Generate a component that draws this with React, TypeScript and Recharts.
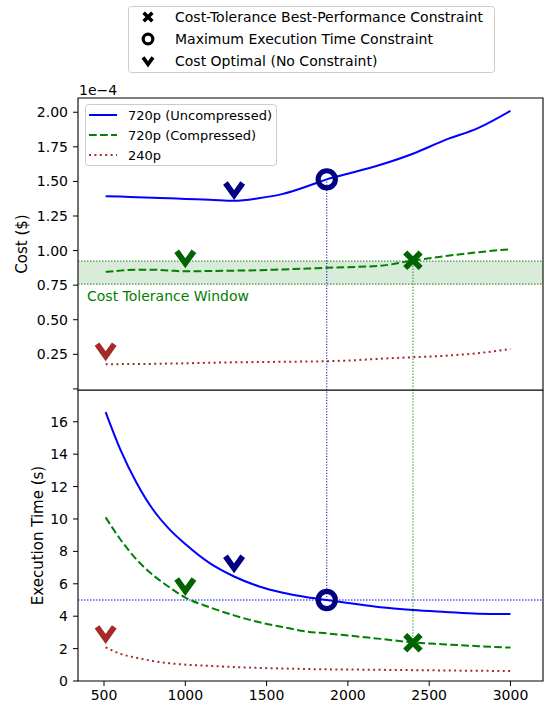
import React from 'react';
import {
  ComposedChart, Line, Scatter, XAxis, YAxis, ReferenceLine, ReferenceArea,
} from 'recharts';

const FONT = '"DejaVu Sans", "Liberation Sans", sans-serif';

// frame sizes sampled along every curve
const frameSizes = [510, 600, 700, 800, 900, 1000, 1150, 1300, 1450, 1600, 1750, 1870, 2000, 2200, 2400, 2600, 2800, 3000];

// cost, in units of 1e-4 $
const costUncompressed = [1.392, 1.39, 1.386, 1.382, 1.378, 1.373, 1.368, 1.36, 1.378, 1.41, 1.465, 1.515, 1.555, 1.62, 1.70, 1.80, 1.885, 2.01];
const costCompressed = [0.846, 0.855, 0.862, 0.862, 0.856, 0.85, 0.852, 0.855, 0.858, 0.864, 0.87, 0.876, 0.88, 0.89, 0.928, 0.96, 0.988, 1.01];
const cost240p = [0.178, 0.179, 0.18, 0.181, 0.183, 0.185, 0.189, 0.192, 0.194, 0.196, 0.198, 0.2, 0.205, 0.218, 0.229, 0.24, 0.258, 0.289];

// execution time, seconds
const timeUncompressed = [16.6, 14.3, 12.24, 10.6, 9.39, 8.45, 7.27, 6.45, 5.85, 5.45, 5.17, 5.0, 4.82, 4.55, 4.38, 4.26, 4.15, 4.13];
const timeCompressed = [10.1, 8.75, 7.5, 6.55, 5.8, 5.15, 4.55, 4.05, 3.64, 3.33, 3.05, 2.94, 2.81, 2.6, 2.38, 2.26, 2.15, 2.06];
const time240p = [2.08, 1.68, 1.43, 1.24, 1.1, 1.01, 0.93, 0.86, 0.81, 0.77, 0.74, 0.72, 0.71, 0.69, 0.67, 0.65, 0.63, 0.62];

// cost-optimal markers: uncompressed, compressed, 240p
const optimalX = [1300, 1000, 510];
const optimalCost = [1.43, 0.937, 0.265];
const optimalTime = [7.2, 5.8, 2.84];
const markerColors = ['#000080', '#006400', '#a52a2a'];

// constraint markers
const maxTimeX = 1870;
const maxTimeCost = 1.515;
const maxTimeLimit = 5.0;
const toleranceX = 2400;
const toleranceCost = 0.93;
const toleranceTime = 2.36;
const toleranceWindow = [0.757, 0.923];

const sizeTicks = [500, 1000, 1500, 2000, 2500, 3000];
const costTicks = [0, 0.25, 0.5, 0.75, 1.0, 1.25, 1.5, 1.75, 2.0];
const timeTicks = [0, 2, 4, 6, 8, 10, 12, 14, 16];

const X_DOMAIN: [number, number] = [340, 3200];
const COST_DOMAIN: [number, number] = [-0.008, 2.103];
const TIME_DOMAIN: [number, number] = [0, 17.96];

const costRows = frameSizes.map((x, i) => ({ x, u: costUncompressed[i], c: costCompressed[i], r: cost240p[i] }));
const timeRows = frameSizes.map((x, i) => ({ x, u: timeUncompressed[i], c: timeCompressed[i], r: time240p[i] }));
const optimalCostPts = optimalX.map((x, i) => ({ x, y: optimalCost[i], color: markerColors[i] }));
const optimalTimePts = optimalX.map((x, i) => ({ x, y: optimalTime[i], color: markerColors[i] }));

const tickStyle = { fontSize: 14, fill: '#000', fontFamily: FONT };

const Chevron = ({ cx, cy, color, s = 1.15, w = 5.8 }: any) => (
  <path d={`M ${cx - 7.5 * s} ${cy - 7 * s} L ${cx} ${cy + 3.5 * s} L ${cx + 7.5 * s} ${cy - 7 * s}`}
    fill="none" stroke={color} strokeWidth={w} strokeLinejoin="miter" />
);
const Cross = ({ cx, cy, color, s = 1.1, w = 5.8 }: any) => (
  <path d={`M ${cx - 7 * s} ${cy - 7 * s} L ${cx + 7 * s} ${cy + 7 * s} M ${cx - 7 * s} ${cy + 7 * s} L ${cx + 7 * s} ${cy - 7 * s}`}
    fill="none" stroke={color} strokeWidth={w} />
);
const Ring = ({ cx, cy, color, r = 8.6, w = 5.2 }: any) => (
  <circle cx={cx} cy={cy} r={r} fill="none" stroke={color} strokeWidth={w} />
);

const yLabel = (text: string, x: number) => ({
  content: (p: any) => {
    const vb = p.viewBox;
    const cy = vb.y + vb.height / 2;
    return (
      <text x={x} y={cy} transform={`rotate(-90 ${x} ${cy})`} textAnchor="middle"
        dominantBaseline="central" fontSize={15} fontFamily={FONT} fill="#000">{text}</text>
    );
  },
});

const curves = [
  { key: 'u', color: '#0000ff', dash: undefined },
  { key: 'c', color: '#008000', dash: '7.7 3.3' },
  { key: 'r', color: '#a52a2a', dash: '2 3.4' },
];

function CostChart() {
  return (
    <ComposedChart width={544} height={391} data={costRows} margin={{ top: 98, right: 1, bottom: 1, left: 0 }}>
      <XAxis dataKey="x" type="number" domain={X_DOMAIN} ticks={sizeTicks} hide allowDataOverflow />
      <YAxis type="number" domain={COST_DOMAIN} ticks={costTicks} width={78} allowDataOverflow
        tick={tickStyle} tickSize={5} tickMargin={5} axisLine={false} tickLine={{ stroke: '#000' }}
        tickFormatter={(v: number) => (v === 0 ? '' : v.toFixed(2))}
        label={yLabel('Cost ($)', 22)} />
      <ReferenceArea y1={toleranceWindow[0]} y2={toleranceWindow[1]} fill="#008000" fillOpacity={0.15} stroke="none"
        label={{
          content: (p: any) => (
            <text x={p.viewBox.x + 9} y={p.viewBox.y + p.viewBox.height + 16.5} fontSize={14}
              fontFamily={FONT} fill="#008000">Cost Tolerance Window</text>
          ),
        }} />
      {toleranceWindow.map(v => (
        <ReferenceLine key={v} y={v} stroke="#006400" strokeOpacity={0.7} strokeWidth={1.2} strokeDasharray="1.5 1.5" />
      ))}
      <ReferenceLine segment={[{ x: maxTimeX, y: COST_DOMAIN[0] }, { x: maxTimeX, y: maxTimeCost }]}
        stroke="#0000cc" strokeWidth={1} strokeDasharray="1.2 1.6" />
      <ReferenceLine segment={[{ x: toleranceX, y: COST_DOMAIN[0] }, { x: toleranceX, y: toleranceCost }]}
        stroke="#008000" strokeOpacity={0.55} strokeWidth={1.5} strokeDasharray="1.5 1.5" />
      {curves.map(c => (
        <Line key={c.key} dataKey={c.key} type="monotone" stroke={c.color} strokeWidth={2}
          strokeDasharray={c.dash} dot={false} activeDot={false} isAnimationActive={false} />
      ))}
      <Scatter data={optimalCostPts} dataKey="y" isAnimationActive={false}
        shape={(p: any) => <Chevron cx={p.cx} cy={p.cy} color={p.payload.color} />} />
      <Scatter data={[{ x: maxTimeX, y: maxTimeCost }]} dataKey="y" isAnimationActive={false}
        shape={(p: any) => <Ring cx={p.cx} cy={p.cy} color="#000080" />} />
      <Scatter data={[{ x: toleranceX, y: toleranceCost }]} dataKey="y" isAnimationActive={false}
        shape={(p: any) => <Cross cx={p.cx} cy={p.cy} color="#006400" />} />
      <ReferenceArea x1={X_DOMAIN[0]} x2={X_DOMAIN[1]} y1={COST_DOMAIN[0]} y2={COST_DOMAIN[1]}
        fill="none" stroke="#000" strokeWidth={1.1} />
    </ComposedChart>
  );
}

function TimeChart() {
  return (
    <ComposedChart width={544} height={312} data={timeRows} margin={{ top: 0, right: 1, bottom: 0, left: 0 }}>
      <XAxis dataKey="x" type="number" domain={X_DOMAIN} ticks={sizeTicks} height={21} allowDataOverflow
        tick={tickStyle} tickSize={5} tickMargin={4} axisLine={false} tickLine={{ stroke: '#000' }} />
      <YAxis type="number" domain={TIME_DOMAIN} ticks={timeTicks} width={78} allowDataOverflow
        tick={tickStyle} tickSize={5} tickMargin={5} axisLine={false} tickLine={{ stroke: '#000' }}
        label={yLabel('Execution Time (s)', 37.5)} />
      <ReferenceLine y={maxTimeLimit} stroke="#0000ff" strokeOpacity={0.5} strokeWidth={2} strokeDasharray="1.5 1.5" />
      <ReferenceLine segment={[{ x: maxTimeX, y: maxTimeLimit }, { x: maxTimeX, y: TIME_DOMAIN[1] }]}
        stroke="#0000cc" strokeWidth={1} strokeDasharray="1.2 1.6" />
      <ReferenceLine segment={[{ x: toleranceX, y: toleranceTime }, { x: toleranceX, y: TIME_DOMAIN[1] }]}
        stroke="#008000" strokeOpacity={0.55} strokeWidth={1.5} strokeDasharray="1.5 1.5" />
      {curves.map(c => (
        <Line key={c.key} dataKey={c.key} type="monotone" stroke={c.color} strokeWidth={2}
          strokeDasharray={c.dash} dot={false} activeDot={false} isAnimationActive={false} />
      ))}
      <Scatter data={optimalTimePts} dataKey="y" isAnimationActive={false}
        shape={(p: any) => <Chevron cx={p.cx} cy={p.cy} color={p.payload.color} />} />
      <Scatter data={[{ x: maxTimeX, y: maxTimeLimit }]} dataKey="y" isAnimationActive={false}
        shape={(p: any) => <Ring cx={p.cx} cy={p.cy} color="#000080" />} />
      <Scatter data={[{ x: toleranceX, y: toleranceTime }]} dataKey="y" isAnimationActive={false}
        shape={(p: any) => <Cross cx={p.cx} cy={p.cy} color="#006400" />} />
      <ReferenceArea x1={X_DOMAIN[0]} x2={X_DOMAIN[1]} y1={TIME_DOMAIN[0]} y2={TIME_DOMAIN[1]}
        fill="none" stroke="#000" strokeWidth={1.1} />
    </ComposedChart>
  );
}

const markerLegend = [
  { label: 'Cost-Tolerance Best-Performance Constraint', kind: 'x' },
  { label: 'Maximum Execution Time Constraint', kind: 'o' },
  { label: 'Cost Optimal (No Constraint)', kind: 'v' },
];
const curveLegend = ['720p (Uncompressed)', '720p (Compressed)', '240p'];

function Overlay() {
  return (
    <svg width={544} height={702} style={{ position: 'absolute', left: 0, top: 0, pointerEvents: 'none' }}>
      <text x={79} y={95} fontSize={14} fontFamily={FONT} fill="#000">1e−4</text>
      <rect x={128.5} y={6.5} width={366} height={66} rx={3} fill="#fff" fillOpacity={0.8} stroke="#ccc" />
      {markerLegend.map((m, i) => {
        const cy = 17 + i * 22;
        return (
          <g key={m.label}>
            {m.kind === 'x' && <Cross cx={148} cy={cy} color="#000" s={0.62} w={3.6} />}
            {m.kind === 'o' && <Ring cx={148} cy={cy} color="#000" r={4.8} w={3.2} />}
            {m.kind === 'v' && <Chevron cx={148} cy={cy + 1} color="#000" s={0.66} w={3.6} />}
            <text x={175} y={cy + 4.8} fontSize={14} fontFamily={FONT} fill="#000">{m.label}</text>
          </g>
        );
      })}
      <rect x={85.5} y={104.5} width={191} height={61} rx={3} fill="#fff" fillOpacity={0.8} stroke="#ccc" />
      {curveLegend.map((label, i) => {
        const cy = 115 + i * 20;
        return (
          <g key={label}>
            <line x1={89} x2={117} y1={cy} y2={cy} stroke={curves[i].color} strokeWidth={2} strokeDasharray={curves[i].dash} />
            <text x={128} y={cy + 4.6} fontSize={13} fontFamily={FONT} fill="#000">{label}</text>
          </g>
        );
      })}
    </svg>
  );
}

export default function App() {
  return (
    <div style={{ position: 'absolute', left: 0, top: 0, width: 544, height: 702, background: '#fff' }}>
      <div style={{ position: 'absolute', left: 0, top: 0 }}>
        <CostChart />
      </div>
      <div style={{ position: 'absolute', left: 0, top: 390 }}>
        <TimeChart />
      </div>
      <Overlay />
    </div>
  );
}
